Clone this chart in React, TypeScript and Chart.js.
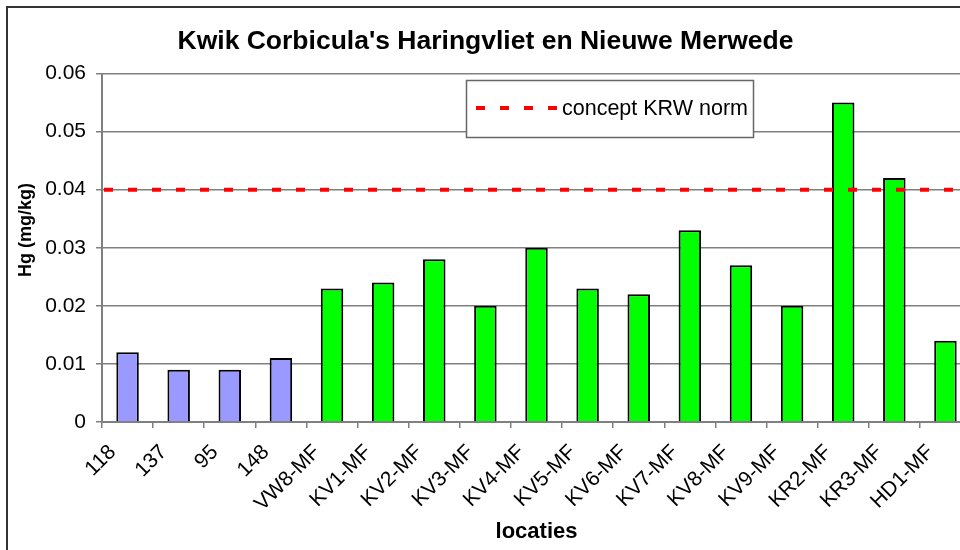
import React, { useEffect, useRef } from "react";
import { Chart, registerables } from "chart.js";

Chart.register(...registerables);

const TITLE = "Kwik Corbicula's Haringvliet en Nieuwe Merwede";
const Y_TITLE = "Hg (mg/kg)";
const X_TITLE = "locaties";

const categories = [
  "118", "137", "95", "148", "VW8-MF", "KV1-MF", "KV2-MF", "KV3-MF", "KV4-MF",
  "KV5-MF", "KV6-MF", "KV7-MF", "KV8-MF", "KV9-MF", "KR2-MF", "KR3-MF", "HD1-MF",
];
const hgValues = [
  0.012, 0.009, 0.009, 0.011, 0.023, 0.024, 0.028, 0.020, 0.030,
  0.023, 0.022, 0.033, 0.027, 0.020, 0.055, 0.042, 0.014,
];
// group of each location: "ref" (numbered stations) or "mf"
const groups = [
  "ref", "ref", "ref", "ref", "mf", "mf", "mf", "mf", "mf",
  "mf", "mf", "mf", "mf", "mf", "mf", "mf", "mf",
];
const normLabel = "concept KRW norm";
const normValue = 0.04;
const yTickValues = [0, 0.01, 0.02, 0.03, 0.04, 0.05, 0.06];
const yTickLabels = ["0", "0.01", "0.02", "0.03", "0.04", "0.05", "0.06"];

const FONT = "'Liberation Sans', Arial, sans-serif";
const GROUP_COLORS: Record<string, string> = { ref: "#9999FF", mf: "#00FF00" };
const NORM_COLOR = "#FF0000";
const GRID = "#808080";

const framePlugin = {
  id: "frame",
  beforeDraw(chart: any) {
    const { ctx, width, height } = chart;
    ctx.save();
    ctx.fillStyle = "#ffffff";
    ctx.fillRect(0, 0, width, height);
    ctx.strokeStyle = "#333333";
    ctx.lineWidth = 2;
    ctx.strokeRect(7, 7, width - 8, height - 3);
    ctx.restore();
  },
};

const yTitlePlugin = {
  id: "yTitle",
  afterDraw(chart: any) {
    const { ctx } = chart;
    ctx.save();
    ctx.translate(26, 230);
    ctx.rotate(-Math.PI / 2);
    ctx.font = `bold 18px ${FONT}`;
    ctx.fillStyle = "#000";
    ctx.textAlign = "center";
    ctx.textBaseline = "middle";
    ctx.fillText(Y_TITLE, 0, 0);
    ctx.restore();
  },
};

const legendPlugin = {
  id: "boxLegend",
  afterDatasetsDraw(chart: any) {
    const { ctx } = chart;
    const ds = chart.data.datasets[0];
    const bx = 466.5, by = 80.5, bw = 287, bh = 57;
    ctx.save();
    ctx.fillStyle = "#ffffff";
    ctx.fillRect(bx, by, bw, bh);
    ctx.strokeStyle = "#666666";
    ctx.lineWidth = 1.5;
    ctx.strokeRect(bx, by, bw, bh);
    const ly = by + bh / 2 - 1;
    ctx.strokeStyle = ds.borderColor;
    ctx.lineWidth = ds.borderWidth;
    ctx.setLineDash(ds.borderDash);
    ctx.beginPath();
    ctx.moveTo(476, ly);
    ctx.lineTo(557, ly);
    ctx.stroke();
    ctx.setLineDash([]);
    ctx.font = `21.5px ${FONT}`;
    ctx.fillStyle = "#000";
    ctx.textAlign = "left";
    ctx.textBaseline = "middle";
    ctx.fillText(ds.label, 562, ly + 1);
    ctx.restore();
  },
};

export default function App() {
  const ref = useRef<HTMLCanvasElement | null>(null);

  useEffect(() => {
    const canvas = ref.current;
    if (!canvas) return;
    const chart = new Chart(canvas, {
      type: "bar",
      data: {
        labels: categories,
        datasets: [
          {
            type: "line",
            label: normLabel,
            data: [
              { x: 0, y: normValue },
              { x: 1, y: normValue },
            ],
            xAxisID: "x2",
            borderColor: NORM_COLOR,
            borderWidth: 4,
            borderDash: [9, 15],
            borderDashOffset: 22,
            pointRadius: 0,
            fill: false,
            order: 0,
          } as any,
          {
            type: "bar",
            label: "Hg",
            data: hgValues,
            backgroundColor: groups.map((g) => GROUP_COLORS[g]),
            borderColor: "#000000",
            borderWidth: 2,
            barPercentage: 0.44,
            categoryPercentage: 1,
            grouped: false,
            order: 1,
          } as any,
        ],
      },
      options: {
        animation: false,
        responsive: false,
        devicePixelRatio: 1,
        layout: { padding: { left: 0, right: 14, top: 0, bottom: 0 } },
        plugins: {
          legend: { display: false },
          tooltip: { enabled: false },
          title: {
            display: true,
            text: TITLE,
            color: "#000",
            font: { family: FONT, size: 26.5, weight: "bold", lineHeight: 1.2 },
            padding: { top: 26, bottom: 15.7 },
          },
        },
        scales: {
          x: {
            type: "category",
            position: "bottom",
            offset: true,
            grid: {
              display: true,
              offset: true,
              drawOnChartArea: false,
              drawTicks: true,
              tickLength: 6,
              color: GRID,
              lineWidth: 1.5,
            },
            border: { display: true, color: GRID, width: 2 },
            ticks: {
              color: "#000",
              font: { family: FONT, size: 21 },
              minRotation: 45,
              maxRotation: 45,
              autoSkip: false,
              padding: 12,
              labelOffset: -15,
            },
            title: {
              display: true,
              text: X_TITLE,
              color: "#000",
              font: { family: FONT, size: 22, weight: "bold", lineHeight: 1.2 },
              padding: { top: 0, bottom: 15 },
            },
            afterFit(scale: any) {
              scale.height = 138;
            },
          },
          x2: {
            type: "linear",
            display: false,
            min: 0,
            max: 1,
            offset: false,
          },
          y: {
            type: "linear",
            min: 0,
            max: 0.06,
            afterBuildTicks(scale: any) {
              scale.ticks = yTickValues.map((v) => ({ value: v }));
            },
            grid: {
              color: GRID,
              lineWidth: 1.5,
              drawTicks: true,
              tickLength: 6,
            },
            border: { display: true, color: GRID, width: 2 },
            ticks: {
              color: "#000",
              font: { family: FONT, size: 21 },
              padding: 10,
              callback: (v: any) => {
                const i = yTickValues.findIndex((t) => Math.abs(t - Number(v)) < 1e-9);
                return i >= 0 ? yTickLabels[i] : "";
              },
            },
            afterFit(scale: any) {
              scale.width = 102;
            },
          },
        },
      },
      plugins: [framePlugin, yTitlePlugin, legendPlugin],
    });
    return () => chart.destroy();
  }, []);

  return (
    <div
      style={{
        position: "absolute",
        left: 0,
        top: 0,
        width: 960,
        height: 550,
        overflow: "hidden",
        background: "#fff",
      }}
    >
      <canvas ref={ref} width={985} height={560} style={{ display: "block" }} />
    </div>
  );
}
